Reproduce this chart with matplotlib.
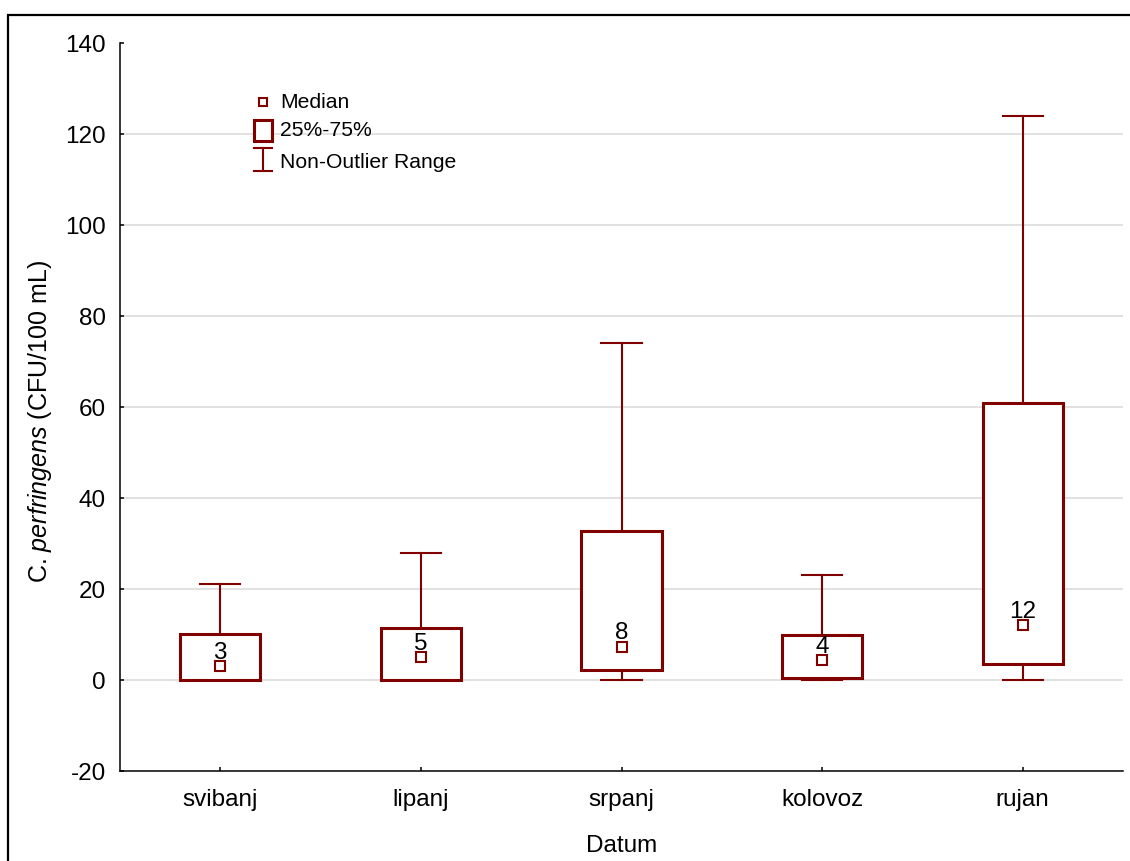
import matplotlib
matplotlib.use("Agg")
import matplotlib.pyplot as plt
from matplotlib.patches import Rectangle
from matplotlib.lines import Line2D

plt.rcParams['font.family'] = ['Liberation Sans', 'DejaVu Sans']
plt.rcParams['mathtext.fontset'] = 'custom'
plt.rcParams['mathtext.rm'] = 'Liberation Sans'
plt.rcParams['mathtext.it'] = 'Liberation Sans:italic'
plt.rcParams['axes.unicode_minus'] = False

# Data
months = ['svibanj', 'lipanj', 'srpanj', 'kolovoz', 'rujan']
medians = [3, 5, 7.3, 4.3, 12.1]
q1 = [0, 0, 2.1, 0.4, 3.5]
q3 = [10.2, 11.4, 32.8, 9.8, 60.8]
whis_lo = [0, 0, 0, 0, 0]
whis_hi = [21, 28, 74, 23, 124]
median_labels = ['3', '5', '8', '4', '12']

red = '#800000'
fs = 17.5
fs_leg = 15.2

fig = plt.figure(figsize=(11.3, 8.62), dpi=100)
ax = fig.add_axes([120/1130, 1 - 772/862, 1003/1130, 728/862])

# outer frame of the figure (only left and top edges visible)
fig.patches.append(Rectangle((8/1130, -0.2), 1.3, 1.2 - 16/862,
                             transform=fig.transFigure, fill=False,
                             edgecolor='black', lw=1.6, zorder=0))

stats = []
for i, m in enumerate(months):
    stats.append(dict(label=m, med=medians[i], q1=q1[i], q3=q3[i],
                      whislo=whis_lo[i], whishi=whis_hi[i], fliers=[]))

pos = list(range(len(months)))
ax.bxp(stats, positions=pos, widths=0.4, showfliers=False,
       boxprops=dict(color=red, lw=2.2, zorder=4),
       whiskerprops=dict(color=red, lw=1.5, zorder=3),
       capprops=dict(color=red, lw=1.5, zorder=3),
       medianprops=dict(visible=False), capwidths=0.2, patch_artist=True)
for p in ax.patches:
    p.set_facecolor('white')
    p.set_edgecolor(red)

ax.plot(pos, medians, ls='none', marker='s', ms=7.5, mfc='white',
        mec=red, mew=1.5, zorder=5)
for x, y, s in zip(pos, medians, median_labels):
    ax.annotate(s, (x, y), xytext=(0, 6), textcoords='offset points',
                ha='center', va='baseline', fontsize=fs, zorder=6)

ax.set_xlim(-0.5, 4.5)
ax.set_ylim(-20, 140)
ax.set_yticks(range(-20, 141, 20))
ax.set_xticks(pos)
ax.set_xticklabels(months)
ax.tick_params(direction='in', length=3, width=1.1, labelsize=fs)
ax.tick_params(axis='y', pad=10)
ax.tick_params(axis='x', pad=12)

ax.grid(axis='y', color='#d9d9d9', lw=1.1, zorder=0)
ax.set_axisbelow(True)
gl = ax.get_ygridlines()
gl[0].set_visible(False)
gl[-1].set_visible(False)

for s in ['top', 'right']:
    ax.spines[s].set_visible(False)
for s in ['left', 'bottom']:
    ax.spines[s].set_linewidth(1.1)

ax.set_xlabel('Datum', fontsize=fs)
ax.xaxis.set_label_coords(0.5, -(846 - 772) / 728, transform=ax.transAxes)
ax.xaxis.label.set_va('center')
ax.set_ylabel(r'C. $\it{perfringens}$ (CFU/100 mL)', fontsize=fs + 0.5)
ax.yaxis.set_label_coords(-(120 - 40) / 1003, (772 - 422) / 728)
ax.yaxis.label.set_va('center')

# legend drawn by hand, in axes fraction
ax.plot([0.1426], [0.9190], transform=ax.transAxes, marker='s', ms=6,
        mfc='white', mec=red, mew=1.5, ls='none', clip_on=False)
ax.text(0.1595, 0.9190, 'Median', transform=ax.transAxes, va='center', fontsize=fs_leg)
ax.add_patch(Rectangle((0.1336, 0.8654), 0.0179, 0.0288, transform=ax.transAxes,
                       facecolor='white', edgecolor=red, lw=2.2, clip_on=False))
ax.text(0.1595, 0.8805, '25%-75%', transform=ax.transAxes, va='center', fontsize=fs_leg)
ax.add_line(Line2D([0.1426, 0.1426], [0.8242, 0.8558], transform=ax.transAxes,
                   color=red, lw=1.5, clip_on=False))
for yy in (0.8242, 0.8558):
    ax.add_line(Line2D([0.1336, 0.1515], [yy, yy], transform=ax.transAxes,
                       color=red, lw=1.5, clip_on=False))
ax.text(0.1595, 0.8379, 'Non-Outlier Range', transform=ax.transAxes, va='center', fontsize=fs_leg)

fig.savefig('out.png', dpi=100)
